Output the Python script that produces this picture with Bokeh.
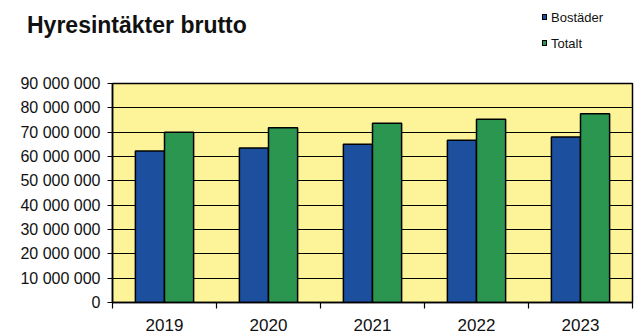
from bokeh.plotting import figure
from bokeh.layouts import column
from bokeh.models import FixedTicker, ColumnDataSource, Range1d, Div
from bokeh.transform import dodge
from bokeh.embed import file_html
from bokeh.resources import INLINE

# ---- data ----
years = ["2019", "2020", "2021", "2022", "2023"]
bostader = [62300000, 63500000, 65000000, 66700000, 68000000]
totalt = [70000000, 71800000, 73700000, 75300000, 77600000]
series_names = ["Bostäder", "Totalt"]
y_ticks = [0, 10000000, 20000000, 30000000, 40000000, 50000000,
           60000000, 70000000, 80000000, 90000000]
y_tick_labels = ["0", "10 000 000", "20 000 000", "30 000 000", "40 000 000",
                 "50 000 000", "60 000 000", "70 000 000", "80 000 000", "90 000 000"]
title_text = "Hyresintäkter brutto"

# ---- styles ----
FONT = "Liberation Sans"
BLUE = "#1d4f9f"
GREEN = "#2a9650"
YELLOW = "#fdf49a"
TEXT = "#111111"
BAR_W = 0.28
series_colors = [BLUE, GREEN]

n = len(years)
centers = [i + 0.5 for i in range(n)]
src = ColumnDataSource(dict(x=centers, year=years, b=bostader, t=totalt))

# ---------- header: title and legend ----------
legend_html = ""
for i, (name, col) in enumerate(zip(series_names, series_colors)):
    top = 11 + 26 * i
    legend_html += (
        f'<div style="position:absolute;left:542px;top:{top + 3}px;width:5px;height:6px;'
        f'background:{col};border:1px solid #000;"></div>'
        f'<div style="position:absolute;left:551px;top:{top}px;font-size:13px;'
        f'line-height:13px;white-space:nowrap;">{name}</div>'
    )
header_html = (
    f'<div style="position:relative;width:640px;height:73px;margin:0;padding:0;'
    f'font-family:\'{FONT}\';color:{TEXT};">'
    f'<div style="position:absolute;left:27px;top:14px;font-size:23px;font-weight:bold;'
    f'line-height:23px;white-space:nowrap;">{title_text}</div>'
    f'{legend_html}</div>'
)
header = Div(text=header_html, width=640, height=73, margin=0,
             styles={"margin": "0", "padding": "0"})

# ---------- main chart ----------
p = figure(width=640, height=260, x_range=Range1d(0, n), y_range=Range1d(0, y_ticks[-1]),
           output_backend="svg", toolbar_location=None,
           min_border_left=112, min_border_right=8, min_border_top=10, min_border_bottom=29)
p.background_fill_color = YELLOW
p.border_fill_color = "white"
p.outline_line_color = "black"
p.outline_line_width = 1.5

p.vbar(x=dodge("x", -BAR_W / 2, range=p.x_range), top="b", width=BAR_W, source=src,
       fill_color=BLUE, line_color="black", line_width=1.5)
p.vbar(x=dodge("x", BAR_W / 2, range=p.x_range), top="t", width=BAR_W, source=src,
       fill_color=GREEN, line_color="black", line_width=1.5)

# y axis
p.yaxis.ticker = FixedTicker(ticks=y_ticks)
p.yaxis.major_label_overrides = {v: s for v, s in zip(y_ticks, y_tick_labels)}
p.yaxis.major_label_text_font = FONT
p.yaxis.major_label_text_font_size = "16px"
p.yaxis.major_label_text_color = TEXT
p.yaxis.major_tick_out = 5
p.yaxis.major_tick_in = 0
p.yaxis.minor_tick_line_color = None
p.yaxis.major_label_standoff = 7
p.yaxis.axis_line_width = 1.5
p.yaxis.major_tick_line_width = 1.2

# x axis: labels at category centres, tick marks at category boundaries
p.xaxis.ticker = FixedTicker(ticks=centers, minor_ticks=list(range(n + 1)))
p.xaxis.major_label_overrides = {c: y for c, y in zip(centers, years)}
p.xaxis.major_label_text_font = FONT
p.xaxis.major_label_text_font_size = "17px"
p.xaxis.major_label_text_color = TEXT
p.xaxis.major_label_standoff = 10
p.xaxis.major_tick_out = 0
p.xaxis.major_tick_in = 0
p.xaxis.major_tick_line_color = None
p.xaxis.minor_tick_out = 6
p.xaxis.minor_tick_in = 0
p.xaxis.minor_tick_line_color = "black"
p.xaxis.minor_tick_line_width = 1.2
p.xaxis.axis_line_width = 1.5

p.xgrid.grid_line_color = None
p.ygrid.ticker = FixedTicker(ticks=y_ticks)
p.ygrid.grid_line_color = "black"
p.ygrid.grid_line_width = 1.2

layout = column(header, p, spacing=0)
open("out.html", "w").write(file_html(layout, INLINE))
